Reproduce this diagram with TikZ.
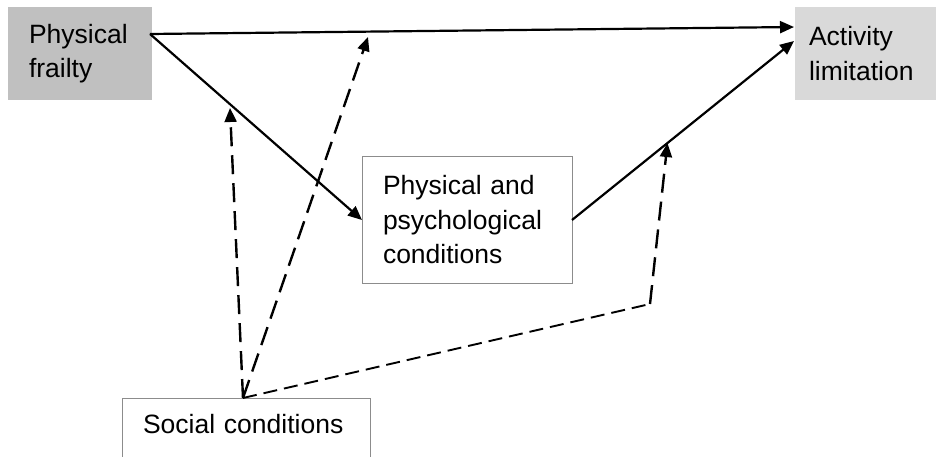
\documentclass[tikz,border=0pt]{standalone}
\usepackage{fontspec}
\setmainfont{Liberation Sans}
\usetikzlibrary{arrows.meta,calc}
\definecolor{boxdark}{HTML}{C0C0C0}
\definecolor{boxlight}{HTML}{D9D9D9}
\definecolor{boxline}{HTML}{8C8C8C}
\tikzset{
  lbl/.style={font=\fontsize{26.5}{34.5}\selectfont, align=left, inner ysep=0pt, outer sep=0pt},
  solidarrow/.style={line width=2.2pt, -{Triangle[length=14pt,width=12pt]}},
  dasharrow/.style={line width=2.4pt, dash pattern=on 19pt off 9pt, -{Triangle[length=14pt,width=12pt]}},
  thindash/.style={line width=1.9pt, dash pattern=on 14pt off 7pt},
}
\begin{document}
\begin{tikzpicture}[x=1pt,y=-1pt]
\clip (0,0) rectangle (936,457);
\fill[white] (0,0) rectangle (936,457);
% boxes
\node[lbl, fill=boxdark, minimum height=93pt, text width=102pt, inner xsep=21pt] (pf) at (80,53.5) {Physical\\frailty};
\node[lbl, fill=boxlight, minimum height=93pt, text width=118pt, inner xsep=14pt] (al) at (868,53.5) {Activity\\limitation};
\node[lbl, draw=boxline, line width=1pt, minimum height=126pt, text width=168pt, inner xsep=21pt] (pp) at (467,220) {Physical and\\psychological\\conditions};
\node[lbl, draw=boxline, line width=1pt, anchor=north west, text width=206pt, inner xsep=21pt, text height=35pt, text depth=38pt] (sc) at (122,398) {Social conditions};
% anchor points
\coordinate (s1) at ($(pf.north east)+(-2,27)$);
\coordinate (e1) at ($(al.north west)+(-1,20)$);
\coordinate (e3) at ($(al.north west)+(-1,34)$);
\coordinate (apex) at ($(sc.north west)+(121,0)$);
\coordinate (t4) at (230,108);
\coordinate (t5) at (368,37);
\coordinate (bend) at (650,304);
\coordinate (t6) at ($(pp.east)!0.43!(e3)$);
% solid arrows
\draw[solidarrow] (s1) -- (e1);
\draw[solidarrow] (s1) -- (pp.west);
\draw[solidarrow] (pp.east) -- (e3);
% dashed arrows
\draw[dasharrow] (apex) -- (t4);
\draw[dasharrow] (apex) -- (t5);
\draw[thindash] (apex) -- (bend);
\draw[dasharrow] (bend) -- (t6);
\end{tikzpicture}
\end{document}
